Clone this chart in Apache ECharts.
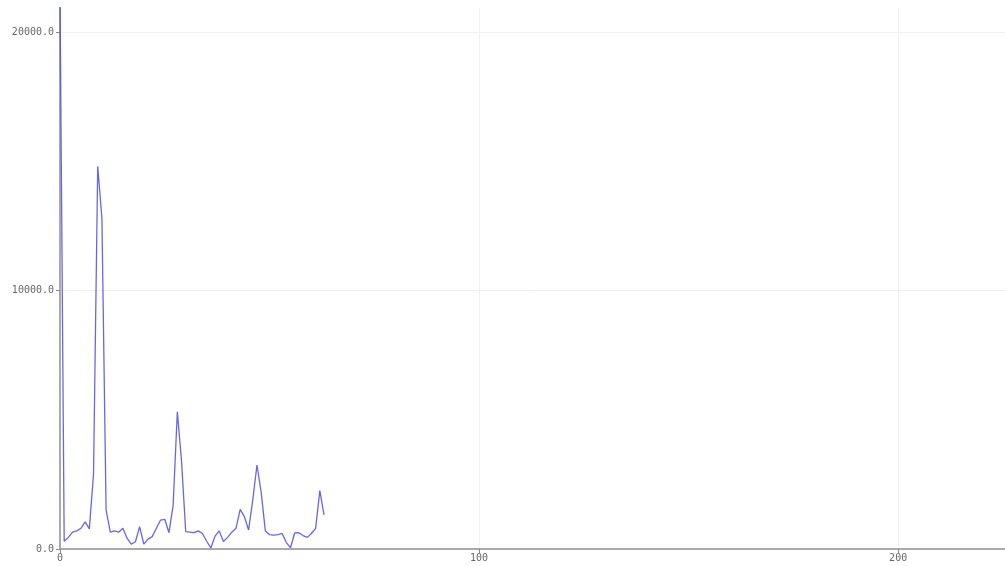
<!DOCTYPE html>
<html>
<head>
<meta charset="utf-8">
<style>
  html, body { margin: 0; padding: 0; background: #ffffff; }
  #chart { width: 1005px; height: 566px; }
</style>
<script src="https://cdn.jsdelivr.net/npm/echarts@6/dist/echarts.min.js"></script>
</head>
<body>
<div id="chart"></div>
<script>
// Spectrum magnitudes, one per frequency bin (bins 0..63)
const magnitudes = [
  21500, 300, 450, 650, 700, 800, 1050, 780, 2900, 14800,
  12800, 1500, 650, 700, 650, 800, 420, 190, 280, 860,
  190, 380, 480, 800, 1120, 1150, 630, 1700, 5310, 3400,
  670, 650, 630, 700, 600, 300, 40, 500, 700, 290,
  450, 650, 800, 1535, 1250, 735, 1900, 3250, 2200, 700,
  560, 540, 560, 600, 250, 50, 620, 630, 520, 450,
  600, 800, 2260, 1320
];
const xTicks = [0, 100, 200];
const yTicks = [0, 10000, 20000];

const points = magnitudes.map((v, i) => [i, v]);

const chart = echarts.init(document.getElementById('chart'), null, { renderer: 'canvas' });

const labelStyle = {
  fontFamily: 'DejaVu Sans Mono, monospace',
  fontSize: 10,
  color: '#666666'
};

chart.setOption({
  animation: false,
  backgroundColor: '#ffffff',
  grid: { left: 60, right: 0, top: 8, bottom: 17, containLabel: false },
  xAxis: {
    type: 'value',
    min: 0,
    max: 225.5,
    interval: 100,
    axisLine: { show: true, onZero: false, lineStyle: { color: '#aaaaaa', width: 2 } },
    axisTick: { show: true, length: 4, lineStyle: { color: '#888888' } },
    axisLabel: {
      ...labelStyle,
      margin: 4,
      showMaxLabel: false,
      formatter: v => xTicks.includes(v) ? String(v) : ''
    },
    splitLine: { show: true, showMaxLine: false, lineStyle: { color: '#f0f0f0', width: 1 } }
  },
  yAxis: {
    type: 'value',
    min: 0,
    max: 20928,
    interval: 10000,
    axisLine: { show: true, onZero: false, lineStyle: { color: '#aaaaaa', width: 2 } },
    axisTick: { show: true, length: 4, lineStyle: { color: '#888888' } },
    axisLabel: {
      ...labelStyle,
      margin: 6,
      showMaxLabel: false,
      formatter: v => yTicks.includes(v) ? v.toFixed(1) : ''
    },
    splitLine: { show: true, showMaxLine: false, lineStyle: { color: '#f0f0f0', width: 1 } }
  },
  series: [{
    type: 'line',
    data: points,
    showSymbol: false,
    clip: true,
    lineStyle: { color: 'rgba(75, 75, 230, 0.85)', width: 1.3 },
    z: 1
  }]
});
</script>
</body>
</html>
